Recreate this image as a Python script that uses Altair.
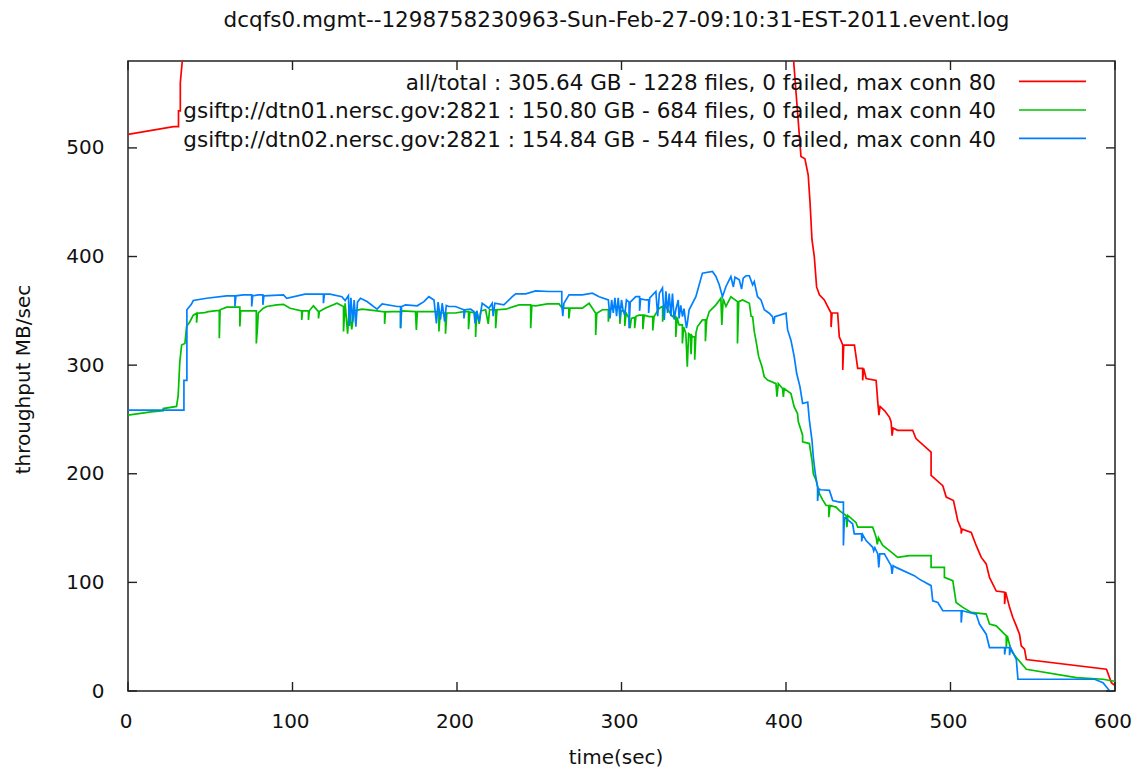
import altair as alt
import pandas as pd

TITLE = "dcqfs0.mgmt--1298758230963-Sun-Feb-27-09:10:31-EST-2011.event.log"

x_ticks = [0, 100, 200, 300, 400, 500, 600]
y_ticks = [0, 100, 200, 300, 400, 500]

legend_labels = [
    "all/total : 305.64 GB - 1228 files, 0 failed, max conn 80",
    "gsiftp://dtn01.nersc.gov:2821 : 150.80 GB - 684 files, 0 failed, max conn 40",
    "gsiftp://dtn02.nersc.gov:2821 : 154.84 GB - 544 files, 0 failed, max conn 40",
]
series_colors = ["#ff0000", "#00c000", "#0080ff"]

# (time sec, MB/sec) vertices
red_pts = [
    (0, 512.5), (27.7, 519.5), (30.7, 519.5), (30.7, 534), (31.8, 534), (31.8, 560), (34.2, 600),
    (36, 690), (60, 712), (150, 710), (250, 715), (340, 712), (360, 745), (380, 735), (395, 650),
    (403, 600), (404.6, 581), (406.1, 551), (409.1, 492), (411.5, 490), (413.5, 475), (414.6, 450),
    (415.8, 415.5), (417.2, 400), (418.6, 372), (420.3, 364.7), (423.3, 360), (425.3, 354),
    (427.4, 348), (427.4, 335), (428, 348), (431.4, 348), (432.4, 326), (434.5, 318.5),
    (434.5, 295.5), (435.1, 318.5), (441.6, 318.5), (443.6, 297), (446.6, 297), (446.6, 286),
    (447.2, 297), (448.7, 287.7), (454.8, 286), (455.8, 266), (456.5, 254), (457.2, 262),
    (460, 258), (462.9, 252), (463.9, 247.7), (464.5, 235), (465.1, 242), (467.9, 240),
    (477, 240), (479, 232.4), (488.2, 220), (488.2, 198.5), (495.3, 189), (497.4, 178.5),
    (501.8, 175.4), (504.4, 157), (506.5, 149), (506.5, 145), (507.1, 149), (512.6, 146),
    (515.6, 134), (518.7, 123), (521.7, 117), (523.7, 104.6), (527.8, 92), (532.9, 91),
    (532.9, 80), (533.5, 91), (535.9, 77), (537.9, 67.7), (540, 60), (542, 52), (543, 41.5),
    (545, 38.5), (546.1, 29), (594.8, 20), (597.8, 7.7), (600, 5),
]

green_pts = [
    (0, 254), (14, 257), (21.4, 258), (21.4, 260), (29.5, 262), (30.5, 272), (31.5, 303),
    (32.6, 318.5), (34.6, 320), (35.6, 335.5), (37.6, 340), (39.7, 346), (41.7, 347.8),
    (41.7, 339), (42.2, 347.8), (46.7, 348.4), (48.8, 349.3), (53.9, 350.2), (55.5, 350.2),
    (55.5, 324.7), (56, 351), (60, 353.4), (68, 353.4), (68, 335.5), (68.5, 350), (76, 350),
    (78, 350), (78, 320), (78.6, 332), (79.2, 348), (82.3, 352.4), (84.3, 354), (90.4, 355.5),
    (94.5, 356), (98.5, 352.4), (105.6, 350), (105.6, 341.6), (106.1, 350), (109.7, 350),
    (109.7, 341.6), (110.2, 350), (112.7, 354.6), (115.8, 349.3), (115.8, 343), (116.3, 349.3),
    (119.8, 352.4), (127, 357), (131, 354), (131, 331), (132, 357), (133.5, 329), (134.5, 352),
    (136, 333), (137.5, 350), (142.3, 351.5), (151.4, 350), (156, 349), (156, 338), (156.5, 349),
    (160.6, 349.3), (165.7, 349.3), (165.7, 334), (166.3, 350), (174.8, 349.3), (175.3, 332.4),
    (175.9, 349.3), (182.9, 349.3), (189, 349.3), (189, 331), (189.8, 348), (193, 348),
    (193, 329), (193.8, 348), (199, 348), (204.2, 349.3), (207, 349.3), (207, 333), (207.8, 349),
    (211.3, 348), (211.3, 326), (212, 350), (213.5, 338), (214.5, 350), (217.4, 351), (219, 338),
    (219.8, 351), (223.5, 351), (223.5, 334), (224.3, 351), (229.6, 351.5), (237.7, 355.5),
    (244.8, 355.5), (244.8, 334), (245.5, 355), (247.8, 354.6), (254.9, 356.4), (262, 356.4),
    (264, 352.4), (268, 352.4), (268, 343), (268.7, 352.4), (276.2, 352.4), (280.3, 357),
    (284.3, 347.8), (284.3, 327.8), (285, 347.8), (288.4, 351), (292, 351), (292, 340),
    (292.8, 351), (296.5, 354), (299, 354), (299, 338), (299.8, 350), (302, 350), (302, 336),
    (302.8, 348), (304.6, 343), (305.2, 334), (306, 343), (308, 344), (308, 334), (308.8, 345),
    (310.7, 346), (313, 346), (313, 333), (313.8, 346), (316.8, 344.7), (319, 344.7), (319, 332),
    (319.8, 344.7), (322.9, 352.4), (325, 354), (325, 340), (325.8, 354), (327, 354),
    (331, 344.7), (333, 344.7), (333, 326), (333.8, 344), (335, 337), (337, 337), (337, 320),
    (337.8, 335), (339.1, 329.3), (340, 298.5), (340.8, 329), (341.8, 328), (342.3, 310),
    (342.8, 327), (343.2, 326), (344.5, 326), (344.5, 305), (345.3, 330), (346.2, 335.5),
    (349.2, 341.6), (351, 341.6), (351, 322), (351.8, 341.6), (353.3, 349.3), (357.4, 355.5),
    (360.4, 361.6), (361, 337), (361.8, 361), (363.5, 354), (366.5, 363), (370.5, 358.5),
    (370.5, 320), (371.3, 358.5), (373.6, 360), (377.7, 357), (378.8, 345), (379.7, 344.7),
    (380.7, 331), (381.7, 323), (383.4, 307.8), (385.4, 298.5), (386.8, 289.3), (388.8, 286.2),
    (393.9, 283), (394.5, 271), (395.3, 283), (397.9, 278.5), (398.4, 270.8), (398.9, 278.5),
    (403, 273.9), (405, 261.6), (407, 255.4), (407.5, 247.8), (410.1, 235.5), (410.1, 229.3),
    (414.2, 227.8), (415.8, 212.4), (416.6, 200), (418.3, 193.9), (420.3, 181.6), (422.3, 176),
    (424.4, 170.8), (426, 170.8), (426, 160), (426.8, 170.8), (430.4, 169.3), (432.5, 166),
    (436.5, 161.6), (437, 150.8), (437.6, 161.6), (442.6, 155), (443.6, 150.8), (452.7, 150.8),
    (454.8, 141.6), (455.5, 135), (456.2, 141), (458.8, 134), (462.9, 129.3), (467.9, 123),
    (475, 124.7), (488.2, 124.7), (488.2, 113.8), (496.3, 113.8), (496.3, 104.6), (501.4, 101.6),
    (503.4, 81.5), (507.5, 77), (512.6, 72.3), (521.7, 70.8), (523.7, 61.6), (527.8, 60),
    (533.9, 50.8), (533.9, 40), (534.5, 50.8), (536.9, 37), (540, 30.8), (546.1, 20),
    (576.5, 12.3), (592.7, 10.8), (598.8, 9.2), (600, 9),
]

blue_pts = [
    (0, 258.5), (34, 258.5), (34, 286), (35.8, 286), (35.8, 351), (38.5, 356), (39.7, 359.5),
    (47.8, 361.6), (60, 363.8), (65, 363.8), (65, 354), (65.6, 363.8), (70, 364.7), (75.2, 364.7),
    (75.2, 354), (75.8, 363.8), (79.2, 364.7), (82, 364.7), (82, 355.5), (82.6, 363.8),
    (94.5, 364.7), (96.5, 361.6), (107.6, 365.3), (118.8, 365.3), (118.8, 357), (119.4, 365.3),
    (122.8, 365.3), (130, 363), (132, 359.5), (134, 364), (134.6, 336), (135.5, 362), (136.5, 340),
    (137.5, 360), (138.5, 335.5), (139.5, 358), (141.3, 361.6), (145.3, 358.5), (151.4, 351.5),
    (154.5, 356.4), (163.6, 354), (165.7, 354), (165.7, 334), (166.3, 354), (168.7, 355.5),
    (175.8, 354.6), (179.9, 358.5), (182.9, 363), (186, 360), (187.5, 338.5), (188.5, 358),
    (190, 342), (191, 357), (192.5, 340), (193.5, 355), (195, 354), (199, 354), (204.2, 351),
    (204.2, 343), (204.9, 351), (208.3, 351.5), (210.3, 349.3), (211, 338.5), (212, 350),
    (213.5, 340), (215.3, 357), (219.4, 352.4), (221.4, 357), (222, 345), (223, 357),
    (228.5, 355.5), (233.6, 363), (235.7, 365.6), (241.8, 365.6), (247.8, 368.4), (256, 367.8),
    (263.7, 367.8), (263.7, 357), (264.3, 345), (265, 357), (268.1, 364.7), (276.2, 364.7),
    (282.3, 366.2), (286.4, 363), (292, 360), (293, 343), (294, 360), (295, 348), (296, 362),
    (297, 345), (298, 362), (299, 343), (300, 360), (301, 350), (302, 346), (303, 360),
    (304.6, 358), (304.6, 334), (305.3, 358), (308.7, 363), (311, 363), (311, 350), (311.6, 361),
    (314.8, 360), (316.5, 360), (316.5, 348), (317.2, 362), (320.9, 367.8), (322, 345), (323, 366),
    (324.9, 371), (326, 341.6), (327, 368), (328, 348), (329, 366), (330, 345), (331, 366),
    (332, 342), (333, 351), (334.5, 360), (335, 343), (336, 355), (337.1, 344.7), (338, 352),
    (339.1, 338.5), (339.5, 334), (340, 338.5), (341.1, 351), (345.2, 363), (349.2, 384.7),
    (355.3, 386.2), (357.4, 381.6), (359.4, 374), (361.4, 363), (363.5, 372.4), (366.5, 381.6),
    (368, 372), (369, 381), (371.6, 378.6), (373, 370), (374, 380), (375.7, 382.3), (377.7, 382.3),
    (379.7, 374), (380.7, 377), (382.7, 363), (384.8, 360), (386.8, 351), (389.8, 347.8),
    (391.8, 344.7), (392.5, 338), (393.2, 344.7), (400, 347.8), (401, 332.4), (403, 323),
    (405, 307.8), (406.5, 292.3), (408.5, 280), (410.1, 264.7), (413.2, 266), (414.2, 249.3),
    (415.8, 230.8), (416.6, 215.4), (417.8, 200), (419.2, 187.7), (419.2, 175), (419.9, 186),
    (421.3, 185.3), (426.4, 184.7), (428.4, 175.4), (432.5, 173.9), (434.9, 173.9), (434.9, 134),
    (435.5, 160), (440.5, 153.9), (441.5, 144.7), (446, 144.7), (446, 137.7), (446.6, 144),
    (448.7, 138.5), (452.7, 132.3), (453.3, 129), (454, 132), (455.8, 126.2), (456.4, 113.8),
    (457, 126.2), (459.8, 126.2), (463.9, 115.4), (464.5, 107.7), (465.1, 115.4), (466.9, 113.8),
    (478, 106.2), (481, 103), (488.2, 97), (489.2, 83), (492.3, 81.5), (495.3, 73.9),
    (506.5, 73.9), (506.5, 63), (507.1, 73.9), (515.6, 70.8), (517.6, 61.6), (521.7, 52.3),
    (523.7, 40), (532.9, 40), (532.9, 33.5), (533.5, 40), (535.9, 40), (535.9, 33), (536.5, 40),
    (540, 29.2), (541, 10.8), (587.6, 10.8), (592.7, 7.7), (596.8, 0), (600, 0),
]


def frame(pts):
    return pd.DataFrame({"t": [p[0] for p in pts], "v": [p[1] for p in pts],
                         "i": list(range(len(pts)))})


W, H = 987, 630
FONT = "DejaVu Sans"
INK = "#111111"

xscale = alt.Scale(domain=[0, 600], nice=False, zero=False)
yscale = alt.Scale(domain=[0, 580], nice=False)

xaxis = alt.Axis(values=x_ticks, title="time(sec)", labelPadding=36, labelBaseline="alphabetic",
                 labelFlush=False, labelOffset=-2.5, titleX=W / 2 - 6, titleY=72,
                 titleBaseline="alphabetic", titleAlign="center")
yaxis = alt.Axis(values=y_ticks, title="throughput MB/sec", labelPadding=24, labelFlush=False,
                 titleX=-105, titleY=H / 2 + 3, titleAngle=270, titleBaseline="middle",
                 titleAlign="center")

X = alt.X("t:Q", scale=xscale, axis=xaxis)
Y = alt.Y("v:Q", scale=yscale, axis=yaxis)

layers = []
for pts, col in zip([red_pts, green_pts, blue_pts], series_colors):
    layers.append(
        alt.Chart(frame(pts)).mark_line(color=col, strokeWidth=1.7, clip=True)
        .encode(x=X, y=Y, order=alt.Order("i:Q"))
    )

TL = 9
xt = pd.DataFrame({"t": x_ticks})
yt = pd.DataFrame({"v": y_ticks})
tick_col = "#222222"
layers += [
    alt.Chart(xt).mark_rule(color=tick_col, strokeWidth=1.4).encode(x=X, y=alt.value(H), y2=alt.value(H - TL)),
    alt.Chart(xt).mark_rule(color=tick_col, strokeWidth=1.4).encode(x=X, y=alt.value(0), y2=alt.value(TL)),
    alt.Chart(yt).mark_rule(color=tick_col, strokeWidth=1.4).encode(y=Y, x=alt.value(0), x2=alt.value(TL)),
    alt.Chart(yt).mark_rule(color=tick_col, strokeWidth=1.4).encode(y=Y, x=alt.value(W), x2=alt.value(W - TL)),
]

# chart title, drawn as text above the plot area
layers.append(
    alt.Chart(pd.DataFrame({"label": [TITLE]})).mark_text(
        align="center", baseline="alphabetic", font=FONT, fontSize=21.5, color=INK)
    .encode(text="label:N", x=alt.value(W / 2 - 5), y=alt.value(-34.5))
)

# legend (gnuplot style: text right-aligned, sample line to its right)
text_base = [28.5, 57.2, 85.8]
line_y = [20.3, 49, 77.4]
for lab, col, tb, ly in zip(legend_labels, series_colors, text_base, line_y):
    d = pd.DataFrame({"label": [lab]})
    layers.append(
        alt.Chart(d).mark_text(align="right", baseline="alphabetic", font=FONT, fontSize=21.5, color=INK)
        .encode(text="label:N", x=alt.value(868), y=alt.value(tb))
    )
    layers.append(
        alt.Chart(d).mark_rule(color=col, strokeWidth=1.7)
        .encode(x=alt.value(891), x2=alt.value(958), y=alt.value(ly))
    )

chart = (
    alt.layer(*layers)
    .properties(
        width=W,
        height=H,
        autosize=alt.AutoSizeParams(type="none"),
        padding={"left": 120, "top": 53, "right": 18, "bottom": 76},
    )
    .configure_view(stroke="#222222", strokeWidth=1.5)
    .configure_axis(domain=False, ticks=False, tickSize=0, grid=False, labelFont=FONT, labelFontSize=20,
                    labelColor=INK, titleFont=FONT, titleFontSize=20, titleFontWeight="normal",
                    titleColor=INK)
)

chart.save("out.html", embed_options={"renderer": "svg", "actions": False})
